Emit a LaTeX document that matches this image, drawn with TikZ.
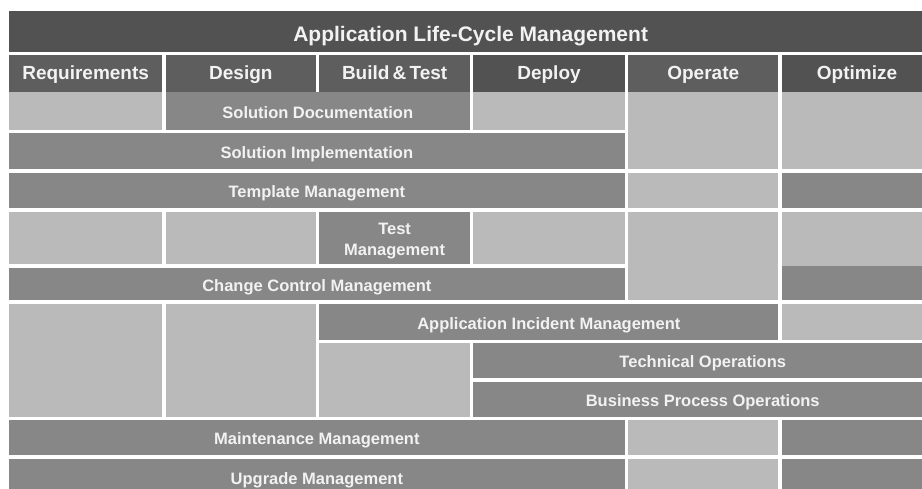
\documentclass[tikz,border=0pt]{standalone}
\usepackage{fontspec}
\setmainfont{Liberation Sans}

% a plain cell of the grid: name, x0, y0, x1, y1, cell style
\newcommand{\gridfill}[6]{%
  \node[#6, minimum width={#4-#2-3.4}, minimum height={#5-#3-3.4}] (#1)
    at ({(#2+#4)/2},{(#3+#5)/2}) {};}
% a cell with text: name, x0, y0, x1, y1, cell style, text style, text
\newcommand{\gridcell}[8]{%
  \gridfill{#1}{#2}{#3}{#4}{#5}{#6}
  \node[#7] (#1-txt) at (#1.center) {#8};}

\begin{document}
\begin{tikzpicture}[x=1pt,y=-1pt,
  every node/.style={inner sep=0pt,outer sep=0pt},
  oneline/.style={text=white!95!black,text depth=0pt},
  titlebar/.style={fill=black!68},
  titletext/.style={oneline,text height=15pt,yshift=-2.8pt,
    font=\bfseries\fontsize{21}{25}\selectfont},
  phase/.style={fill=black!63},
  phasedark/.style={fill=black!68},
  phasetext/.style={oneline,text height=13.6pt,yshift=0.9pt,
    font=\bfseries\fontsize{19}{23}\selectfont},
  task/.style={fill=black!47},
  tasktext/.style={oneline,text height=11.8pt,yshift=-1.2pt,
    font=\bfseries\fontsize{16.5}{21}\selectfont},
  twolinetext/.style={text=white!95!black,align=center,yshift=-3pt,
    font=\bfseries\fontsize{16.5}{21}\selectfont},
  blank/.style={fill=black!27}]
\useasboundingbox (0,0) rectangle (922,489);
\clip (0,0) rectangle (922,489);

\gridcell{alm}{7.3}{9.3}{934}{53.5}{titlebar}{titletext}{Application Life-Cycle Management}

\gridcell{req}{7.3}{53.5}{164}{94}{phase}{phasetext}{Requirements}
\gridcell{des}{164}{53.5}{317.7}{94}{phase}{phasetext}{Design}
\gridcell{bt}{317.7}{53.5}{471.5}{94}{phase}{phasetext}{Build\,\&\,Test}
\gridcell{dep}{471.5}{53.5}{626.5}{94}{phasedark}{phasetext}{Deploy}
\gridcell{op}{626.5}{53.5}{780}{94}{phase}{phasetext}{Operate}
\gridcell{opt}{780}{53.5}{934}{94}{phasedark}{phasetext}{Optimize}

% rows 1-3
\gridfill{req1}{7.3}{90.6}{164}{131.5}{blank}
\gridcell{soldoc}{164}{90.6}{471.5}{131.5}{task}{tasktext}{Solution Documentation}
\gridfill{dep1}{471.5}{90.6}{626.5}{131.5}{blank}
\gridfill{op12}{626.5}{90.6}{780}{171}{blank}
\gridfill{opt12}{780}{90.6}{934}{171}{blank}
\gridcell{solimpl}{7.3}{131.5}{626.5}{171}{task}{tasktext}{Solution Implementation}
\gridcell{tmpl}{7.3}{171}{626.5}{210}{task}{tasktext}{Template Management}
\gridfill{op3}{626.5}{171}{780}{210}{blank}
\gridfill{opt3}{780}{171}{934}{210}{task}

% rows 4-5
\gridfill{req4}{7.3}{210}{164}{266}{blank}
\gridfill{des4}{164}{210}{317.7}{266}{blank}
\gridcell{testmgmt}{317.7}{210}{471.5}{266}{task}{twolinetext}{Test\\Management}
\gridfill{dep4}{471.5}{210}{626.5}{266}{blank}
\gridfill{op45}{626.5}{210}{780}{302.2}{blank}
\gridfill{opt4}{780}{210}{934}{267.7}{blank}
\gridcell{chgctrl}{7.3}{266}{626.5}{302.2}{task}{tasktext}{Change Control Management}
\gridfill{opt5}{780}{264.3}{934}{302.2}{task}

% rows 6-8
\gridfill{req68}{7.3}{302.2}{164}{418.3}{blank}
\gridfill{des68}{164}{302.2}{317.7}{418.3}{blank}
\gridcell{incident}{317.7}{302.2}{780}{341.7}{task}{tasktext}{Application Incident Management}
\gridfill{opt6}{780}{302.2}{934}{341.7}{blank}
\gridfill{bt78}{317.7}{341.7}{471.5}{418.3}{blank}
\gridcell{techops}{471.5}{341.7}{934}{380}{task}{tasktext}{Technical Operations}
\gridcell{bizops}{471.5}{380}{934}{418.3}{task}{tasktext}{Business Process Operations}

% rows 9-10
\gridcell{maint}{7.3}{418.3}{626.5}{457}{task}{tasktext}{Maintenance Management}
\gridfill{op9}{626.5}{418.3}{780}{457}{blank}
\gridfill{opt9}{780}{418.3}{934}{457}{task}
\gridcell{upgrade}{7.3}{457}{626.5}{497}{task}{tasktext}{Upgrade Management}
\gridfill{op10}{626.5}{457}{780}{497}{blank}
\gridfill{opt10}{780}{457}{934}{497}{task}
\end{tikzpicture}
\end{document}
